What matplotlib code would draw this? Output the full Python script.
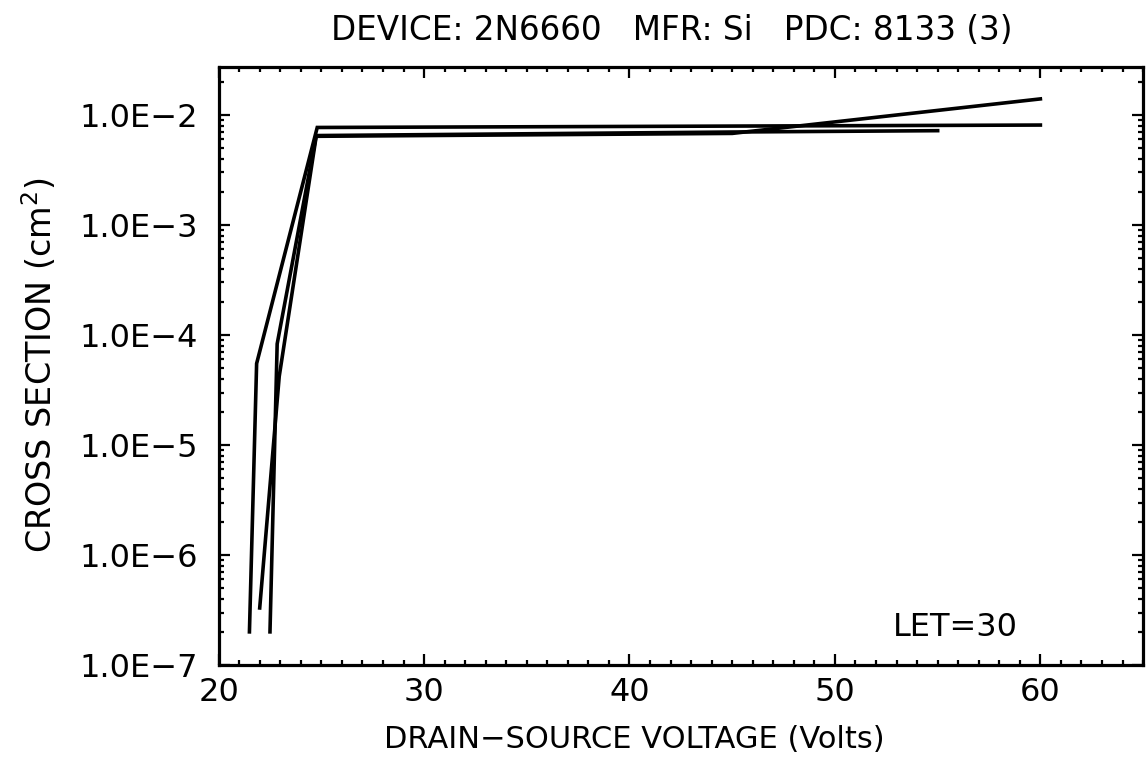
import numpy as np
import matplotlib
matplotlib.use("Agg")
from matplotlib import pyplot as plt
from matplotlib.ticker import MultipleLocator, LogLocator, FuncFormatter, NullFormatter

# three runs of cross section vs drain-source voltage, LET=30
v_run1 = [21.5, 21.85, 24.8, 60.0]
s_run1 = [2.0e-7, 5.5e-5, 7.7e-3, 8.1e-3]

v_run2 = [22.0, 22.95, 24.75, 45.0, 60.0]
s_run2 = [3.3e-7, 4.2e-5, 6.4e-3, 6.8e-3, 1.4e-2]

v_run3 = [22.5, 22.85, 24.75, 45.0, 55.0]
s_run3 = [2.0e-7, 8.3e-5, 6.5e-3, 7.0e-3, 7.2e-3]

y_ticks = [1e-7, 1e-6, 1e-5, 1e-4, 1e-3, 1e-2]
x_ticks = [20, 30, 40, 50, 60]

plt.rcParams['font.family'] = ['DejaVu Sans']

fig = plt.figure(figsize=(11.47, 7.64), dpi=100)
ax = fig.add_axes([0.1906, 0.1296, 0.806, 0.7827])

for v, s in [(v_run1, s_run1), (v_run2, s_run2), (v_run3, s_run3)]:
    ax.plot(v, s, color='black', linewidth=2.6, solid_joinstyle='miter')

ax.set_yscale('log')
ax.set_xlim(20, 65)
ax.set_ylim(1e-7, 2.73e-2)

ax.set_xticks(x_ticks)
ax.xaxis.set_minor_locator(MultipleLocator(1))
ax.set_yticks(y_ticks)
ax.yaxis.set_minor_locator(LogLocator(base=10, subs=np.arange(2, 10), numticks=20))
ax.yaxis.set_minor_formatter(NullFormatter())
ax.yaxis.set_major_formatter(
    FuncFormatter(lambda val, pos: '1.0E\u2212%d' % int(round(-np.log10(val)))))

ax.tick_params(which='both', direction='in', top=True, right=True,
               width=1.6, colors='black')
ax.tick_params(which='major', length=8)
ax.tick_params(which='minor', length=3.5)
ax.tick_params(axis='x', which='major', labelsize=23, pad=9)
ax.tick_params(axis='y', which='major', labelsize=23, pad=15)

for sp in ax.spines.values():
    sp.set_linewidth(2.3)

ax.text(0.797, 0.062, 'LET=30', transform=ax.transAxes, fontsize=23,
        ha='center', va='center')

fig.text(672 / 1147, 1 - 31 / 764, 'DEVICE: 2N6660   MFR: Si   PDC: 8133 (3)',
         fontsize=23.5, ha='center', va='center')
fig.text(634 / 1147, 1 - 740 / 764, 'DRAIN\u2212SOURCE VOLTAGE (Volts)',
         fontsize=22, ha='center', va='center')
fig.text(40 / 1147, 1 - 365 / 764, 'CROSS SECTION (cm$^2$)',
         fontsize=24, ha='center', va='center', rotation=90)

fig.savefig('out.png', dpi=100)
